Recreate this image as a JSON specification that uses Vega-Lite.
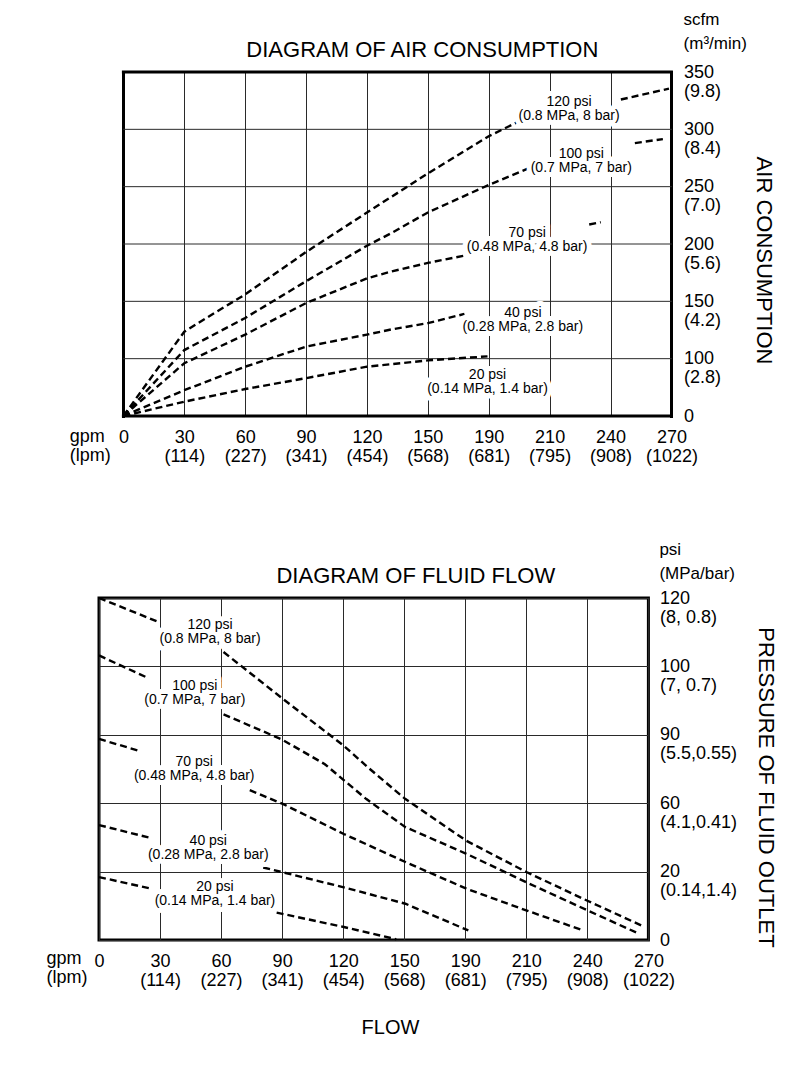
{
  "$schema": "https://vega.github.io/schema/vega-lite/v6.json",
  "background": "white",
  "padding": {"left": 45, "top": 10, "right": 5, "bottom": 5},
  "config": {
    "font": "Liberation Sans",
    "view": {"stroke": "black", "strokeWidth": 3},
    "axis": {
      "grid": true, "gridColor": "#2a2a2a", "gridOpacity": 1, "gridCap": "square",
      "ticks": false, "domain": false,
      "labelColor": "black", "labelFontSize": 18, "labelLineHeight": 19,
      "labelOverlap": false, "labelFlush": false, "labelBound": false,
      "titleColor": "black", "titleFontSize": 22, "titleFontWeight": "normal"
    }
  },
  "columns": 1,
  "spacing": 73,
  "concat": [
    {
      "width": 572.4,
      "height": 344,
      "view": {"stroke": null},
      "layer": [
        {
          "data": {"name": "airGrid"},
          "mark": {"type": "rule", "strokeCap": "square"},
          "encoding": {
            "y": {"field": "v", "type": "quantitative"},
            "x": {"datum": 0},
            "x2": {"datum": 9},
            "strokeWidth": {"condition": {"test": "datum.v == 0 || datum.v == 6", "value": 3}, "value": 1},
            "color": {"condition": {"test": "datum.v == 0 || datum.v == 6", "value": "black"}, "value": "#2a2a2a"}
          }
        },
        {
          "data": {"name": "airLines"},
          "mark": {"type": "line", "color": "black", "strokeWidth": 2.4, "strokeDash": [7, 4]},
          "encoding": {
            "x": {
              "field": "x", "type": "quantitative",
              "scale": {"domain": [0, 9], "range": [24.4, 572.4], "nice": false, "zero": false},
              "axis": {
                "values": [0, 1, 2, 3, 4, 5, 6, 7, 8, 9],
                "labelExpr": "[['0'],['30','(114)'],['60','(227)'],['90','(341)'],['120','(454)'],['150','(568)'],['190','(681)'],['210','(795)'],['240','(908)'],['270','(1022)']][datum.value]",
                "title": null, "labelPadding": 12, "labelAlign": "center", "labelBaseline": "top",
                "gridWidth": {"condition": {"test": "datum.value == 0 || datum.value == 9", "value": 3}, "value": 1},
                "gridColor": {"condition": {"test": "datum.value == 0 || datum.value == 9", "value": "black"}, "value": "#2a2a2a"}
              }
            },
            "y": {
              "field": "y", "type": "quantitative",
              "scale": {"domain": [0, 6], "nice": false, "zero": false},
              "axis": {
                "orient": "right",
                "grid": false,
                "values": [0, 1, 2, 3, 4, 5, 6],
                "labelExpr": "[['0'],['100','(2.8)'],['150','(4.2)'],['200','(5.6)'],['250','(7.0)'],['300','(8.4)'],['350','(9.8)']][datum.value]",
                "title": "AIR CONSUMPTION",
                "labelAlign": "left", "labelBaseline": "top", "labelOffset": -9, "labelPadding": 12,
                "titleX": 92, "titleY": 188, "titleAngle": 90, "titleAlign": "center", "titleBaseline": "middle"
              }
            },
            "detail": {"field": "key", "type": "nominal"}
          }
        },
        {
          "data": {"name": "airLabels"},
          "mark": {"type": "text", "fontSize": 14, "lineHeight": 14, "lineBreak": "\n", "align": "center", "baseline": "middle", "color": "white", "stroke": "white", "strokeWidth": 10, "strokeJoin": "round"},
          "encoding": {
            "x": {"field": "x", "type": "quantitative"},
            "y": {"field": "y", "type": "quantitative"},
            "text": {"field": "label", "type": "nominal"}
          }
        },
        {
          "data": {"name": "airLabels"},
          "mark": {"type": "text", "fontSize": 14, "lineHeight": 14, "lineBreak": "\n", "align": "center", "baseline": "middle", "color": "black"},
          "encoding": {
            "x": {"field": "x", "type": "quantitative"},
            "y": {"field": "y", "type": "quantitative"},
            "text": {"field": "label", "type": "nominal"}
          }
        },
        {
          "data": {"name": "airNotes"},
          "transform": [{"filter": "datum.kind == 'title'"}],
          "mark": {"type": "text", "fontSize": 22, "align": "center", "baseline": "middle", "color": "black"},
          "encoding": {
            "x": {"field": "x", "type": "quantitative"},
            "y": {"field": "y", "type": "quantitative"},
            "text": {"field": "label", "type": "nominal"}
          }
        },
        {
          "data": {"name": "airNotes"},
          "transform": [{"filter": "datum.kind == 'unit'"}],
          "mark": {"type": "text", "fontSize": 17, "lineHeight": 24, "lineBreak": "\n", "align": "left", "baseline": "middle", "color": "black"},
          "encoding": {
            "x": {"field": "x", "type": "quantitative"},
            "y": {"field": "y", "type": "quantitative"},
            "text": {"field": "label", "type": "nominal"}
          }
        },
        {
          "data": {"name": "airNotes"},
          "transform": [{"filter": "datum.kind == 'gpm'"}],
          "mark": {"type": "text", "fontSize": 18, "lineHeight": 19, "lineBreak": "\n", "align": "left", "baseline": "middle", "color": "black"},
          "encoding": {
            "x": {"field": "x", "type": "quantitative"},
            "y": {"field": "y", "type": "quantitative"},
            "text": {"field": "label", "type": "nominal"}
          }
        }
      ]
    },
    {
      "width": 549.4,
      "height": 342,
      "layer": [
        {
          "data": {"name": "fluidLines"},
          "mark": {"type": "line", "color": "black", "strokeWidth": 2.4, "strokeDash": [7, 4]},
          "encoding": {
            "x": {
              "field": "x", "type": "quantitative",
              "scale": {"domain": [0, 9], "nice": false, "zero": false},
              "axis": {
                "values": [0, 1, 2, 3, 4, 5, 6, 7, 8, 9],
                "labelExpr": "[['0'],['30','(114)'],['60','(227)'],['90','(341)'],['120','(454)'],['150','(568)'],['190','(681)'],['210','(795)'],['240','(908)'],['270','(1022)']][datum.value]",
                "title": "FLOW", "labelPadding": 12, "labelAlign": "center", "labelBaseline": "top",
                "titleX": 291, "titleY": 87, "titleAlign": "center", "titleBaseline": "middle", "titleFontSize": 20,
                "gridWidth": 1
              }
            },
            "y": {
              "field": "y", "type": "quantitative",
              "scale": {"domain": [0, 5], "nice": false, "zero": false},
              "axis": {
                "orient": "right",
                "values": [0, 1, 2, 3, 4, 5],
                "labelExpr": "[['0'],['20','(0.14,1.4)'],['60','(4.1,0.41)'],['90','(5.5,0.55)'],['100','(7, 0.7)'],['120','(8, 0.8)']][datum.value]",
                "title": "PRESSURE OF FLUID OUTLET",
                "labelAlign": "left", "labelBaseline": "top", "labelOffset": -9, "labelPadding": 11,
                "titleX": 117, "titleY": 189, "titleAngle": 90, "titleAlign": "center", "titleBaseline": "middle",
                "gridWidth": 1
              }
            },
            "detail": {"field": "key", "type": "nominal"}
          }
        },
        {
          "data": {"name": "fluidLabels"},
          "mark": {"type": "text", "fontSize": 14, "lineHeight": 14, "lineBreak": "\n", "align": "center", "baseline": "middle", "color": "white", "stroke": "white", "strokeWidth": 10, "strokeJoin": "round"},
          "encoding": {
            "x": {"field": "x", "type": "quantitative"},
            "y": {"field": "y", "type": "quantitative"},
            "text": {"field": "label", "type": "nominal"}
          }
        },
        {
          "data": {"name": "fluidLabels"},
          "mark": {"type": "text", "fontSize": 14, "lineHeight": 14, "lineBreak": "\n", "align": "center", "baseline": "middle", "color": "black"},
          "encoding": {
            "x": {"field": "x", "type": "quantitative"},
            "y": {"field": "y", "type": "quantitative"},
            "text": {"field": "label", "type": "nominal"}
          }
        },
        {
          "data": {"name": "fluidNotes"},
          "transform": [{"filter": "datum.kind == 'title'"}],
          "mark": {"type": "text", "fontSize": 22, "align": "center", "baseline": "middle", "color": "black"},
          "encoding": {
            "x": {"field": "x", "type": "quantitative"},
            "y": {"field": "y", "type": "quantitative"},
            "text": {"field": "label", "type": "nominal"}
          }
        },
        {
          "data": {"name": "fluidNotes"},
          "transform": [{"filter": "datum.kind == 'unit'"}],
          "mark": {"type": "text", "fontSize": 17, "lineHeight": 24, "lineBreak": "\n", "align": "left", "baseline": "middle", "color": "black"},
          "encoding": {
            "x": {"field": "x", "type": "quantitative"},
            "y": {"field": "y", "type": "quantitative"},
            "text": {"field": "label", "type": "nominal"}
          }
        },
        {
          "data": {"name": "fluidNotes"},
          "transform": [{"filter": "datum.kind == 'gpm'"}],
          "mark": {"type": "text", "fontSize": 18, "lineHeight": 19, "lineBreak": "\n", "align": "left", "baseline": "middle", "color": "black"},
          "encoding": {
            "x": {"field": "x", "type": "quantitative"},
            "y": {"field": "y", "type": "quantitative"},
            "text": {"field": "label", "type": "nominal"}
          }
        }
      ]
    }
  ],
  "datasets": {
    "airGrid": [{"v": 0}, {"v": 1}, {"v": 2}, {"v": 3}, {"v": 4}, {"v": 5}, {"v": 6}],
    "airLines": [
      {"key": "120a", "x": 0, "y": 0}, {"key": "120a", "x": 1, "y": 1.47}, {"key": "120a", "x": 1.5, "y": 1.8}, {"key": "120a", "x": 2, "y": 2.12}, {"key": "120a", "x": 3, "y": 2.86}, {"key": "120a", "x": 4, "y": 3.55}, {"key": "120a", "x": 5, "y": 4.23}, {"key": "120a", "x": 6, "y": 4.88}, {"key": "120a", "x": 6.48, "y": 5.13},
      {"key": "120b", "x": 8.17, "y": 5.52}, {"key": "120b", "x": 8.96, "y": 5.71},
      {"key": "100a", "x": 0, "y": 0}, {"key": "100a", "x": 1, "y": 1.15}, {"key": "100a", "x": 2, "y": 1.71}, {"key": "100a", "x": 3, "y": 2.35}, {"key": "100a", "x": 4, "y": 2.97}, {"key": "100a", "x": 4.4, "y": 3.19}, {"key": "100a", "x": 5, "y": 3.55}, {"key": "100a", "x": 6, "y": 4.03}, {"key": "100a", "x": 6.7, "y": 4.34},
      {"key": "100b", "x": 8.4, "y": 4.76}, {"key": "100b", "x": 8.86, "y": 4.83},
      {"key": "70a", "x": 0, "y": 0}, {"key": "70a", "x": 1, "y": 0.92}, {"key": "70a", "x": 2, "y": 1.42}, {"key": "70a", "x": 3, "y": 1.97}, {"key": "70a", "x": 4, "y": 2.4}, {"key": "70a", "x": 4.4, "y": 2.52}, {"key": "70a", "x": 5, "y": 2.67}, {"key": "70a", "x": 5.66, "y": 2.81},
      {"key": "70b", "x": 7.65, "y": 3.34}, {"key": "70b", "x": 7.84, "y": 3.38},
      {"key": "40a", "x": 0, "y": 0}, {"key": "40a", "x": 1, "y": 0.45}, {"key": "40a", "x": 2, "y": 0.86}, {"key": "40a", "x": 3, "y": 1.21}, {"key": "40a", "x": 4, "y": 1.42}, {"key": "40a", "x": 4.4, "y": 1.51}, {"key": "40a", "x": 5, "y": 1.62}, {"key": "40a", "x": 5.6, "y": 1.78},
      {"key": "20a", "x": 0, "y": 0}, {"key": "20a", "x": 1, "y": 0.25}, {"key": "20a", "x": 2, "y": 0.47}, {"key": "20a", "x": 3, "y": 0.66}, {"key": "20a", "x": 4, "y": 0.86}, {"key": "20a", "x": 5, "y": 0.97}, {"key": "20a", "x": 5.98, "y": 1.04}
    ],
    "airLabels": [
      {"x": 7.32, "y": 5.47, "label": "120 psi\n(0.8 MPa, 8 bar)"},
      {"x": 7.52, "y": 4.57, "label": "100 psi\n(0.7 MPa, 7 bar)"},
      {"x": 6.63, "y": 3.19, "label": "70 psi\n(0.48 MPa, 4.8 bar)"},
      {"x": 6.56, "y": 1.79, "label": "40 psi\n(0.28 MPa, 2.8 bar)"},
      {"x": 5.98, "y": 0.72, "label": "20 psi\n(0.14 MPa, 1.4 bar)"}
    ],
    "airNotes": [
      {"kind": "title", "x": 4.91, "y": 6.39, "label": "DIAGRAM OF AIR CONSUMPTION"},
      {"kind": "unit", "x": 9.2, "y": 6.91, "label": "scfm\n(m³/min)"},
      {"kind": "gpm", "x": -0.88, "y": -0.37, "label": "gpm\n(lpm)"}
    ],
    "fluidLines": [
      {"key": "120a", "x": 0, "y": 5.0}, {"key": "120a", "x": 1.0, "y": 4.64},
      {"key": "120b", "x": 2.04, "y": 4.21}, {"key": "120b", "x": 3.02, "y": 3.52}, {"key": "120b", "x": 4.01, "y": 2.84}, {"key": "120b", "x": 4.41, "y": 2.52}, {"key": "120b", "x": 5.02, "y": 2.06}, {"key": "120b", "x": 6.02, "y": 1.45}, {"key": "120b", "x": 7.01, "y": 0.99}, {"key": "120b", "x": 8.01, "y": 0.57}, {"key": "120b", "x": 8.94, "y": 0.19},
      {"key": "100a", "x": 0, "y": 4.16}, {"key": "100a", "x": 0.78, "y": 3.84},
      {"key": "100b", "x": 2.04, "y": 3.3}, {"key": "100b", "x": 3.0, "y": 2.93}, {"key": "100b", "x": 3.7, "y": 2.57}, {"key": "100b", "x": 4.38, "y": 2.06}, {"key": "100b", "x": 5.02, "y": 1.65}, {"key": "100b", "x": 6.02, "y": 1.26}, {"key": "100b", "x": 7.01, "y": 0.84}, {"key": "100b", "x": 8.01, "y": 0.43}, {"key": "100b", "x": 8.85, "y": 0.09},
      {"key": "70a", "x": 0, "y": 2.94}, {"key": "70a", "x": 0.64, "y": 2.77},
      {"key": "70b", "x": 2.47, "y": 2.19}, {"key": "70b", "x": 3.01, "y": 1.99}, {"key": "70b", "x": 4.01, "y": 1.55}, {"key": "70b", "x": 5.02, "y": 1.14}, {"key": "70b", "x": 6.02, "y": 0.75}, {"key": "70b", "x": 7.01, "y": 0.43}, {"key": "70b", "x": 7.93, "y": 0.14},
      {"key": "40a", "x": 0, "y": 1.68}, {"key": "40a", "x": 0.81, "y": 1.5},
      {"key": "40b", "x": 2.69, "y": 1.06}, {"key": "40b", "x": 3.01, "y": 0.99}, {"key": "40b", "x": 4.01, "y": 0.77}, {"key": "40b", "x": 5.02, "y": 0.53}, {"key": "40b", "x": 6.05, "y": 0.14},
      {"key": "20a", "x": 0, "y": 0.92}, {"key": "20a", "x": 0.86, "y": 0.75},
      {"key": "20b", "x": 2.91, "y": 0.4}, {"key": "20b", "x": 4.01, "y": 0.19}, {"key": "20b", "x": 4.87, "y": 0.01}
    ],
    "fluidLabels": [
      {"x": 1.82, "y": 4.61, "label": "120 psi\n(0.8 MPa, 8 bar)"},
      {"x": 1.57, "y": 3.72, "label": "100 psi\n(0.7 MPa, 7 bar)"},
      {"x": 1.56, "y": 2.6, "label": "70 psi\n(0.48 MPa, 4.8 bar)"},
      {"x": 1.79, "y": 1.45, "label": "40 psi\n(0.28 MPa, 2.8 bar)"},
      {"x": 1.9, "y": 0.77, "label": "20 psi\n(0.14 MPa, 1.4 bar)"}
    ],
    "fluidNotes": [
      {"kind": "title", "x": 5.19, "y": 5.32, "label": "DIAGRAM OF FLUID FLOW"},
      {"kind": "unit", "x": 9.18, "y": 5.7, "label": "psi\n(MPa/bar)"},
      {"kind": "gpm", "x": -0.86, "y": -0.28, "label": "gpm\n(lpm)"}
    ]
  }
}
